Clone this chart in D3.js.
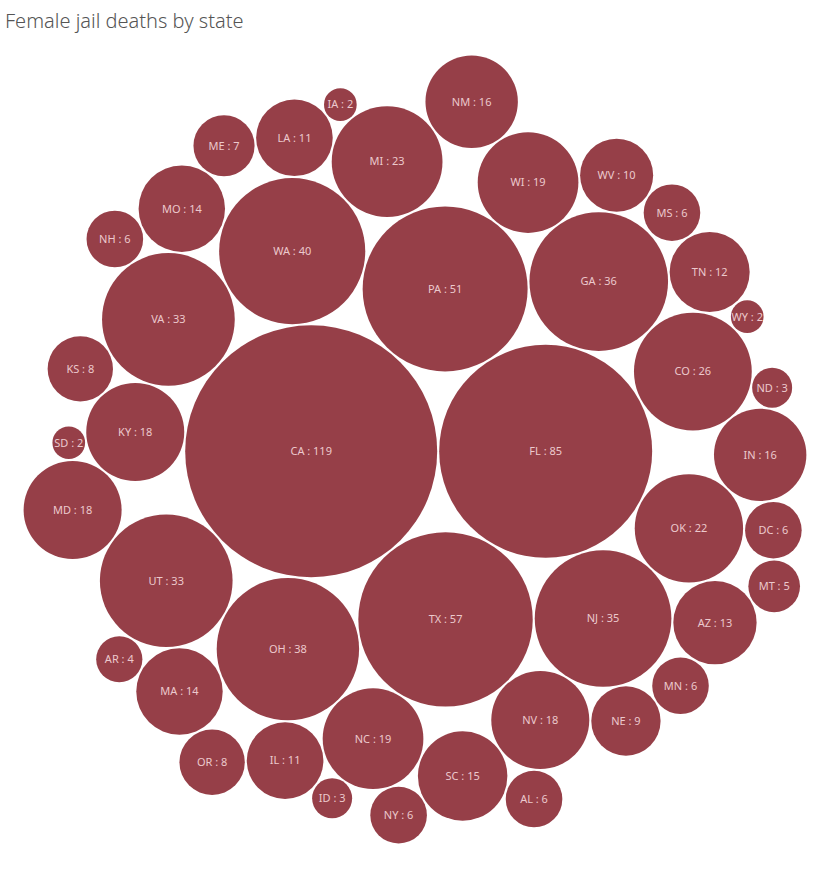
<!DOCTYPE html>
<html>
<head>
<meta charset="utf-8">
<script src="https://cdn.jsdelivr.net/npm/d3@7"></script>
<style>
  body { margin: 0; background: #fff; }
  svg text { font-family: "Noto Sans", Lato, sans-serif; }
</style>
</head>
<body>
<div id="chart"></div>
<script>
// data
const states = ['CA','FL','TX','PA','WA','OH','GA','NJ','VA','UT','CO','MI','OK','NC','WI','NV','KY','MD','IN','NM','SC','MO','MA','AZ','TN','LA','IL','WV','NE','KS','OR','ME','MN','MS','NY','AL','DC','NH','MT','AR','ND','ID','SD','IA','WY'];
const deaths = [119,85,57,51,40,38,36,35,33,33,26,23,22,19,19,18,18,18,16,16,15,14,14,13,12,11,11,10,9,8,8,7,6,6,6,6,6,6,5,4,3,3,2,2,2];

const title = 'Female jail deaths by state';

const width = 830, height = 873;
const margin = {top: 40, right: 2, bottom: 14, left: 2};
const fill = '#963f48';

const svg = d3.select('#chart').append('svg')
  .attr('width', width)
  .attr('height', height);

svg.append('text')
  .attr('x', 5)
  .attr('y', 28)
  .attr('fill', '#555')
  .style('font-size', '20px')
  .style('font-weight', 300)
  .text(title);

// bubble area ~ value
let rScale = d3.scaleSqrt()
  .domain([0, d3.max(deaths)])
  .range([0, 126]);

const gap = 1;
let nodes = states.map((s, i) => ({state: s, value: deaths[i], r: rScale(deaths[i]) + gap}));
d3.packSiblings(nodes);

// fit the packed bubbles into the plot area
const x0 = d3.min(nodes, d => d.x - d.r), x1 = d3.max(nodes, d => d.x + d.r);
const y0 = d3.min(nodes, d => d.y - d.r), y1 = d3.max(nodes, d => d.y + d.r);
const availW = width - margin.left - margin.right;
const availH = height - margin.top - margin.bottom;
const k = Math.min(1, availW / (x1 - x0), availH / (y1 - y0));

const xScale = d3.scaleLinear()
  .domain([x0, x1])
  .range([0, (x1 - x0) * k]);
const yScale = d3.scaleLinear()
  .domain([y0, y1])
  .range([0, (y1 - y0) * k]);

const offX = margin.left + (availW - (x1 - x0) * k) / 2;
const offY = margin.top + (availH - (y1 - y0) * k) / 2;

const g = svg.append('g')
  .attr('transform', 'translate(' + offX + ',' + offY + ')');

const bubble = g.selectAll('g.bubble')
  .data(nodes)
  .enter().append('g')
    .attr('class', 'bubble')
    .attr('transform', d => 'translate(' + xScale(d.x) + ',' + yScale(d.y) + ')');

bubble.append('circle')
  .attr('r', d => rScale(d.value) * k)
  .attr('fill', fill);

bubble.append('text')
  .attr('text-anchor', 'middle')
  .attr('dy', '0.35em')
  .attr('fill', '#ecc9cd')
  .style('font-size', '11px')
  .text(d => d.state + ' : ' + d.value);
</script>
</body>
</html>
